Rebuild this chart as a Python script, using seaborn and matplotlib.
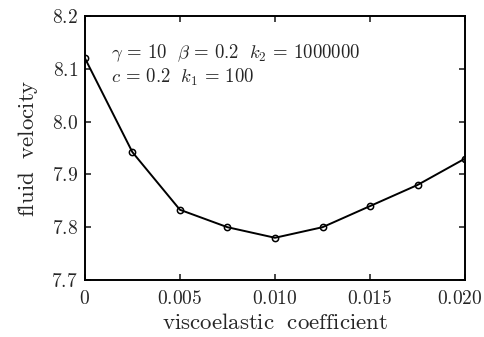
import matplotlib
matplotlib.use("Agg")
import matplotlib.pyplot as plt
import matplotlib.transforms as mtransforms
import seaborn as sns
import pandas as pd

visco = [0.0, 0.0025, 0.005, 0.0075, 0.010, 0.0125, 0.015, 0.0175, 0.020]
velocity = [8.12, 7.942, 7.833, 7.800, 7.780, 7.800, 7.840, 7.880, 7.930]
xticks = [0, 0.005, 0.010, 0.015, 0.020]
xticklabels = ["0", "0.005", "0.010", "0.015", "0.020"]
yticks = [7.7, 7.8, 7.9, 8.0, 8.1, 8.2]
yticklabels = ["7.7", "7.8", "7.9", "8.0", "8.1", "8.2"]

sns.set_style("ticks")
plt.rcParams["mathtext.fontset"] = "cm"
plt.rcParams["font.family"] = ["DejaVu Serif"]

df = pd.DataFrame({"x": visco, "y": velocity})
fig = plt.figure(figsize=(4.85, 3.37), dpi=100)
ax = fig.add_axes([0.175, 0.169, 0.784, 0.784])
sns.lineplot(data=df, x="x", y="y", ax=ax, color="black", linewidth=1.4,
             marker="o", markersize=4.5, markerfacecolor="none",
             markeredgecolor="black", markeredgewidth=1.1)
ax.set_xlim(0, 0.02)
ax.set_ylim(7.7, 8.2)
ax.set_xticks(xticks)
ax.set_xticklabels(["$\\mathrm{%s}$" % t for t in xticklabels], fontsize=14)
ax.set_yticks(yticks)
ax.set_yticklabels(["$\\mathrm{%s}$" % t for t in yticklabels], fontsize=14)
ax.tick_params(direction="in", top=True, right=True, length=4, width=1.2)
ax.tick_params(axis="x", pad=7)
ax.tick_params(axis="y", pad=5)
last = ax.get_xticklabels()[-1]
last.set_transform(last.get_transform() +
                   mtransforms.ScaledTranslation(-5 / 100, 0, fig.dpi_scale_trans))
for s in ax.spines.values():
    s.set_linewidth(1.4)
    s.set_color("black")
ax.set_xlabel(r"$\mathrm{viscoelastic\ \ coefficient}$", fontsize=16.5, labelpad=3)
ax.set_ylabel(r"$\mathrm{fluid\ \ velocity}$", fontsize=16.5, labelpad=8)
ax.text(0.07, 0.84, r"$\gamma\,=\,10\ \ \beta\,=\,0.2\ \ k_2\,=\,1000000$",
        transform=ax.transAxes, fontsize=13.5)
ax.text(0.07, 0.745, r"$c\,=\,0.2\ \ k_1\,=\,100$",
        transform=ax.transAxes, fontsize=13.5)
fig.savefig("out.png", dpi=100)
